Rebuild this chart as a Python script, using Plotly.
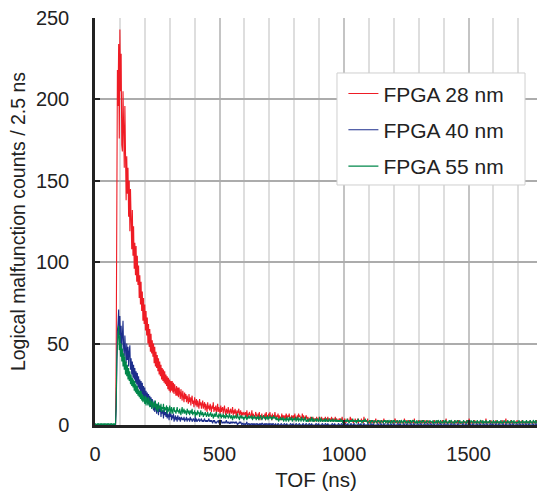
import plotly.graph_objects as go

BIN_NS = 2.5  # histogram bin width (ns)

# ---- FPGA 28 nm (counts per 2.5 ns bin), bins start at 0 ns ----
pre_28 = "0000000000000000000000000000000000"          # 0 - 82.5 ns
head_28 = [                                            # 85 - 597.5 ns
    40, 150, 218, 196, 234, 176, 243, 205, 228, 172,
    168, 205, 184, 158, 196, 150, 138, 165, 142, 158,
    128, 150, 119, 145, 128, 108, 132, 104, 122, 96,
    112, 92, 110, 88, 104, 86, 98, 78, 92, 74,
    88, 70, 82, 64, 78, 62, 74, 58, 70, 55,
    66, 50, 62, 48, 59, 45, 56, 44, 52, 42,
    50, 38, 48, 36, 45, 35, 43, 33, 41, 31,
    39, 30, 37, 28, 35, 27, 34, 26, 33, 25,
    31, 24, 30, 22, 29, 21, 28, 20, 27, 21,
    27, 20, 26, 19, 25, 21, 18, 24, 18, 23,
    17, 23, 19, 16, 22, 18, 15, 21, 17, 14,
    20, 16, 19, 14, 18, 15, 13, 19, 14, 17,
    12, 16, 18, 13, 15, 11, 17, 14, 12, 16,
    11, 15, 13, 10, 16, 12, 14, 10, 13, 15,
    10, 12, 14, 9, 13, 11, 8, 14, 10, 12,
    9, 13, 11, 8, 12, 10, 14, 8, 11, 9,
    12, 7, 10, 13, 8, 11, 9, 7, 12, 8,
    10, 11, 7, 9, 12, 8, 6, 10, 9, 7,
    11, 8, 6, 9, 10, 7, 8, 11, 6, 9,
    7, 10, 8, 5, 9, 7, 8, 10, 6, 7,
    9, 5, 8, 7, 6, 8]
tail_28 = ("7685947687" "5694765486" "6475836574" "5647385647" "4856374658"   # from 600 ns
           "5465736453" "7465463754" "6573546546" "3745364756" "4537463546"
           "4353425343" "5243425342" "5343524343" "5243524342" "5342435243"
           "32434235232431324232534231324232413232423152323241"
           "21323122312421322131232142312231221322131242213212"
           "12312214212312131221231412212132121312213121231212"
           "21212312121312112131212141212131211212312121312112"
           "12121213121412112121312121212131212121412121213121"
           "21213121212121312121412121213121212121312121213121"
           "12121212131212121213121212141212121213121212121312"
           "12121312121212131212121212131212121213121212121312"
           "21213121212131212121412121213121212131212121312121")

# ---- FPGA 40 nm ----
pre_40 = "0000000000000000000000000000000000"
head_40 = [                                            # 85 - 342.5 ns
    10, 45, 58, 62, 71, 55, 67, 50, 61, 46,
    58, 64, 47, 42, 55, 44, 38, 50, 40, 48,
    36, 45, 49, 34, 41, 31, 39, 29, 37, 28,
    35, 26, 33, 25, 32, 23, 30, 22, 28, 20,
    27, 19, 26, 17, 24, 16, 23, 15, 21, 14,
    20, 13, 19, 12, 18, 11, 17, 10, 16, 12,
    9, 15, 8, 14, 11, 7, 13, 9, 6, 12,
    8, 11, 5, 10, 7, 9, 4, 10, 6, 8,
    5, 9, 4, 7, 6, 3, 8, 5, 7, 3,
    6, 4, 7, 2, 5, 6, 3, 5, 2, 6,
    4, 3, 5, 2]
tail_40 = ("45343524352434253423432524233423342323423232342323"   # from 345 ns
           "21323121223121231221212312121121212112121011212101"
           "10110120110101101010110100101011001010100101001010"
           "00100010000100001000100000100010000100001000001000"
           "01000010001000000100010000010000100010000001000100"
           "00010000100000100010000100001000000100010000100000"
           "10000100010000001000010000100000100001000010000010"
           "00100000100001000001000010000010000100000100001000"
           "01000010000010000100000100001000001000010000010000"
           "00010000100000100001000001000010000010000100000100"
           "01000010000100000100001000001000010000010000100001"
           "00001000010000010000100000100001000001000010000010")

# ---- FPGA 55 nm ----
pre_55 = "0100101001010010100101001010010101"
head_55 = [                                            # 85 - 597.5 ns
    12, 40, 52, 56, 61, 46, 55, 42, 50, 39,
    47, 36, 44, 34, 42, 31, 39, 30, 37, 28,
    35, 27, 33, 25, 31, 24, 29, 23, 28, 21,
    27, 20, 25, 19, 24, 18, 22, 17, 21, 16,
    21, 15, 19, 14, 18, 16, 13, 18, 12, 17,
    15, 12, 17, 14, 11, 16, 13, 10, 15, 12,
    10, 14, 11, 15, 9, 13, 11, 8, 14, 10,
    12, 9, 13, 8, 11, 10, 13, 8, 11, 9,
    10, 12, 7, 11, 9, 8, 12, 10, 7, 11,
    9, 7, 10, 11, 8, 9, 7, 10, 11, 8,
    9, 7, 10, 8, 6, 9, 11, 7, 8, 10,
    7, 9, 8, 6, 10, 8, 7, 9, 6, 8,
    9, 7, 10, 6, 8, 7, 9, 5, 8, 7,
    6, 9, 7, 8, 5, 7, 9, 6, 7, 8,
    5, 7, 6, 8, 7, 5, 6, 8, 6, 5,
    7, 6, 8, 5, 6, 7, 4, 6, 7, 5,
    6, 8, 5, 6, 4, 7, 6, 5, 7, 4,
    6, 5, 7, 4, 6, 5, 4, 7, 5, 6,
    4, 5, 7, 5, 4, 6, 5, 3, 6, 5,
    4, 6, 5, 4, 5, 7, 4, 5, 3, 6,
    5, 4, 6, 4, 5, 3]
tail_55 = ("5465354645" "5463546453" "5463546534" "5645354635" "4645354645"   # from 600 ns
           "4353424353" "4352434253" "4253435243" "4352435243" "4253424352"
           "32423432532423342432352342332423423243233242332423"
           "23232423132323242312323242322313242323213232423212"
           "23213232123221323212322132312321322132132312232123"
           "21322132312213212321322312131221322132312213222132"
           "22131221321322132121321322121321322121321232213121"
           "21322121321221322132122132121322131221321221322121"
           "32122132122131221322121321221322131221221321221321"
           "22132122132121322132122131221321221322132121321221"
           "32122132121322132122132121321221322132122132121322"
           "21321221322132122131221322121321221322132121322131")

series_names = ["FPGA 28 nm", "FPGA 40 nm", "FPGA 55 nm"]
series_colors = ["#ee1c25", "#1c2e8c", "#00874a"]
x_ticks = [0, 500, 1000, 1500]
y_ticks = [0, 50, 100, 150, 200, 250]


def build(pre, head, tail):
    vals = [int(c) for c in pre] + list(head) + [int(c) for c in tail]
    xs = [i * BIN_NS for i in range(len(vals))]
    return xs, vals


data = [build(pre_28, head_28, tail_28),
        build(pre_40, head_40, tail_40),
        build(pre_55, head_55, tail_55)]

FONT = "Liberation Sans, Arial, Helvetica, sans-serif"
TXT = "#222222"

fig = go.Figure()
for i, ((xs, ys), name, col) in enumerate(zip(data, series_names, series_colors)):
    fig.add_trace(go.Scatter(x=xs, y=ys, mode="lines", name=name,
                             legendgroup=f"g{i}",
                             line=dict(color=col, width=1.1)))

# legend frame (wider than plotly's auto-sized legend box)
fig.add_shape(type="rect", xref="paper", yref="paper",
              x0=0.5475, x1=0.9729, y0=0.5897, y1=0.8649,
              fillcolor="white", line=dict(color="#cfcfcf", width=1), layer="above")

fig.update_layout(
    width=537, height=499,
    margin=dict(l=95, r=0, t=18, b=74),
    paper_bgcolor="white", plot_bgcolor="white",
    font=dict(family=FONT, size=20, color=TXT),
    showlegend=True,
    legend=dict(x=0.562, y=0.864, xanchor="left", yanchor="top",
                bgcolor="rgba(255,255,255,0)", borderwidth=0,
                font=dict(family=FONT, size=21, color=TXT),
                tracegroupgap=6, itemwidth=30),
)
fig.update_xaxes(
    range=[0, 1775], tickvals=x_ticks, ticktext=[str(v) for v in x_ticks],
    showline=True, linecolor=TXT, linewidth=2.5,
    ticks="inside", ticklen=5, tickwidth=2, tickcolor=TXT,
    showgrid=True, gridcolor="#c4c4c4", gridwidth=1.5,
    minor=dict(dtick=100, tick0=0, showgrid=True, gridcolor="#dedede", gridwidth=1.5, ticks=""),
    zeroline=False, ticklabelstandoff=9, automargin=False,
    tickfont=dict(family=FONT, size=20, color=TXT),
    title=dict(text="TOF (ns)", font=dict(family=FONT, size=20.5, color=TXT), standoff=9),
)
fig.update_yaxes(
    range=[0, 250], tickvals=y_ticks, ticktext=[str(v) for v in y_ticks],
    showline=True, linecolor=TXT, linewidth=2.5,
    ticks="inside", ticklen=5, tickwidth=2, tickcolor=TXT,
    showgrid=True, gridcolor="#acacac", gridwidth=1.5,
    zeroline=False, ticklabelstandoff=19, automargin=False,
    tickfont=dict(family=FONT, size=20, color=TXT),
    title=dict(text="Logical malfunction counts / 2.5 ns",
               font=dict(family=FONT, size=19.5, color=TXT), standoff=6),
)

fig.write_html("out.html", config={"displayModeBar": False},
               post_script="document.body.style.margin='0px';")
